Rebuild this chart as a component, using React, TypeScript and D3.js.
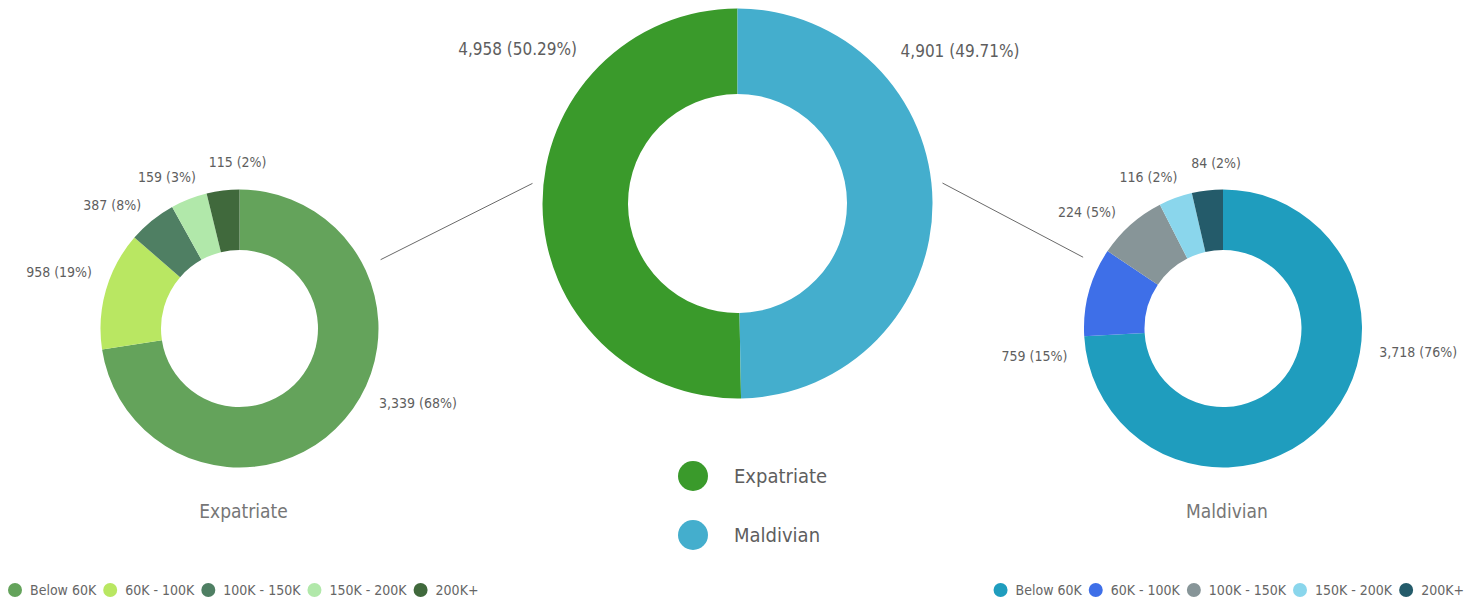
import React, { useEffect, useRef } from 'react';
import * as d3 from 'd3';

// ---------- data ----------
const groups = ['Expatriate', 'Maldivian'];
const groupTotals = [4958, 4901];
const groupPctLabels = ['50.29%', '49.71%'];
const groupColors = ['#3a9a2b', '#44aecd'];

const bands = ['Below 60K', '60K - 100K', '100K - 150K', '150K - 200K', '200K+'];
const expatValues = [3339, 958, 387, 159, 115];
const expatPct = ['68%', '19%', '8%', '3%', '2%'];
// slice shares (%) as drawn in the reference picture
const expatSliceShares = [72.6, 13.75, 5.6, 4.25, 3.8];
const expatColors = ['#64a35b', '#b9e762', '#4f7f63', '#b1e8aa', '#40693c'];

const maldivianValues = [3718, 759, 224, 116, 84];
const maldivianPct = ['76%', '15%', '5%', '2%', '2%'];
const maldivianSliceShares = [74.1, 10.3, 8.1, 3.9, 3.6];
const maldivianColors = ['#1f9dbe', '#3e6fe8', '#879598', '#8ad6ec', '#245b6a'];

// ---------- layout ----------
const W = 1479;
const H = 604;
const FONT = "'DejaVu Sans Condensed', 'DejaVu Sans', sans-serif";
const TEXT = '#5e5e5e';
const deg = Math.PI / 180;

const centerDonut = { cx: 737.5, cy: 203.5, r: 195, r0: 109.5, labelR: 223, labelAngles: [314, 47] };
const sideDonuts = [
  { cx: 239.5, cy: 328.5, r: 139, r0: 78.5, labelR: 158, labelAngles: [118, 291, 321.5, 344, 359.3], linkAngle: 64, centerLinkAngle: 275.6 },
  { cx: 1223, cy: 328.5, r: 139, r0: 78.5, labelR: 158, labelAngles: [98.7, 260, 317.3, 343.2, 357.5], linkAngle: 297, centerLinkAngle: 84.3 },
];

const fmt = d3.format(',');

export default function App() {
  const ref = useRef<SVGSVGElement | null>(null);

  useEffect(() => {
    const svg = d3.select(ref.current);
    svg.selectAll('*').remove();
    svg.style('font-family', FONT).style('font-stretch', 'condensed');

    const polar = (cx: number, cy: number, r: number, aDeg: number) => [
      cx + r * Math.sin(aDeg * deg),
      cy - r * Math.cos(aDeg * deg),
    ];

    const placeLabel = (
      g: d3.Selection<SVGGElement, unknown, null, undefined>,
      cx: number, cy: number, r: number, aDeg: number, text: string, size: number
    ) => {
      const s = Math.sin(aDeg * deg);
      const c = Math.cos(aDeg * deg);
      let [x, y] = polar(cx, cy, r, aDeg);
      let anchor = 'middle';
      if (s > 0.15) anchor = 'start';
      else if (s < -0.15) anchor = 'end';
      else y -= 8 * c;
      g.append('text')
        .attr('x', x)
        .attr('y', y)
        .attr('dy', '0.35em')
        .attr('text-anchor', anchor)
        .attr('font-size', size)
        .attr('fill', TEXT)
        .text(text);
    };

    // ---- connector lines ----
    sideDonuts.forEach((sd) => {
      const [x1, y1] = polar(centerDonut.cx, centerDonut.cy, 206, sd.centerLinkAngle);
      const [x2, y2] = polar(sd.cx, sd.cy, 157, sd.linkAngle);
      svg.append('line')
        .attr('x1', x1).attr('y1', y1).attr('x2', x2).attr('y2', y2)
        .attr('stroke', '#6a6a6a').attr('stroke-width', 1);
    });

    // ---- center donut ----
    const cg = svg.append('g');
    const cPie = d3.pie<number>().sort(null).startAngle(0).endAngle(-2 * Math.PI);
    const cArc = d3.arc<d3.PieArcDatum<number>>().innerRadius(centerDonut.r0).outerRadius(centerDonut.r);
    cg.append('g')
      .attr('transform', `translate(${centerDonut.cx},${centerDonut.cy})`)
      .selectAll('path')
      .data(cPie(groupTotals))
      .join('path')
      .attr('d', cArc)
      .attr('fill', (_d, i) => groupColors[i]);
    groupTotals.forEach((v, i) => {
      placeLabel(cg, centerDonut.cx, centerDonut.cy, centerDonut.labelR, centerDonut.labelAngles[i],
        `${fmt(v)} (${groupPctLabels[i]})`, 17);
    });

    // ---- side donuts ----
    const sideData = [
      { values: expatValues, shares: expatSliceShares, pct: expatPct, colors: expatColors, title: groups[0] },
      { values: maldivianValues, shares: maldivianSliceShares, pct: maldivianPct, colors: maldivianColors, title: groups[1] },
    ];
    sideData.forEach((sdata, k) => {
      const sd = sideDonuts[k];
      const g = svg.append('g');
      const pie = d3.pie<number>().sort(null);
      const arc = d3.arc<d3.PieArcDatum<number>>().innerRadius(sd.r0).outerRadius(sd.r);
      g.append('g')
        .attr('transform', `translate(${sd.cx},${sd.cy})`)
        .selectAll('path')
        .data(pie(sdata.shares))
        .join('path')
        .attr('d', arc)
        .attr('fill', (_d, i) => sdata.colors[i]);
      sdata.values.forEach((v, i) => {
        placeLabel(g, sd.cx, sd.cy, sd.labelR, sd.labelAngles[i], `${fmt(v)} (${sdata.pct[i]})`, 14);
      });
      g.append('text')
        .attr('x', sd.cx + 4)
        .attr('y', 511)
        .attr('dy', '0.35em')
        .attr('text-anchor', 'middle')
        .attr('font-size', 19)
        .attr('fill', '#767676')
        .text(sdata.title);
    });

    // ---- center legend ----
    const yLeg = d3.scalePoint<string>().domain(groups).range([476, 535]);
    const lg = svg.append('g');
    groups.forEach((gname, i) => {
      lg.append('circle').attr('cx', 693).attr('cy', yLeg(gname)!).attr('r', 15).attr('fill', groupColors[i]);
      lg.append('text')
        .attr('x', 734).attr('y', yLeg(gname)!).attr('dy', '0.35em')
        .attr('font-size', 20).attr('fill', TEXT).text(gname);
    });

    // ---- bottom legends ----
    const buildLegend = (colors: string[], align: 'left' | 'right', edge: number) => {
      const g = svg.append('g');
      const items = bands.map((b, i) => {
        const it = g.append('g');
        it.append('circle').attr('cx', 0).attr('cy', 0).attr('r', 7).attr('fill', colors[i]);
        const t = it.append('text').attr('x', 15).attr('dy', '0.35em')
          .attr('font-size', 14).attr('fill', '#666').text(b);
        const w = (t.node() as SVGTextElement).getComputedTextLength();
        return { it, w: 15 + w };
      });
      const gap = 14;
      const total = items.reduce((s, d) => s + d.w, 0) + gap * (items.length - 1);
      let x = align === 'left' ? edge : edge - total;
      items.forEach((d) => {
        d.it.attr('transform', `translate(${x},590)`);
        x += d.w + gap;
      });
    };
    buildLegend(expatColors, 'left', 15);
    buildLegend(maldivianColors, 'right', 1464);
  }, []);

  return (
    <svg
      ref={ref}
      width={W}
      height={H}
      style={{ position: 'absolute', left: 0, top: 0, display: 'block' }}
    />
  );
}
